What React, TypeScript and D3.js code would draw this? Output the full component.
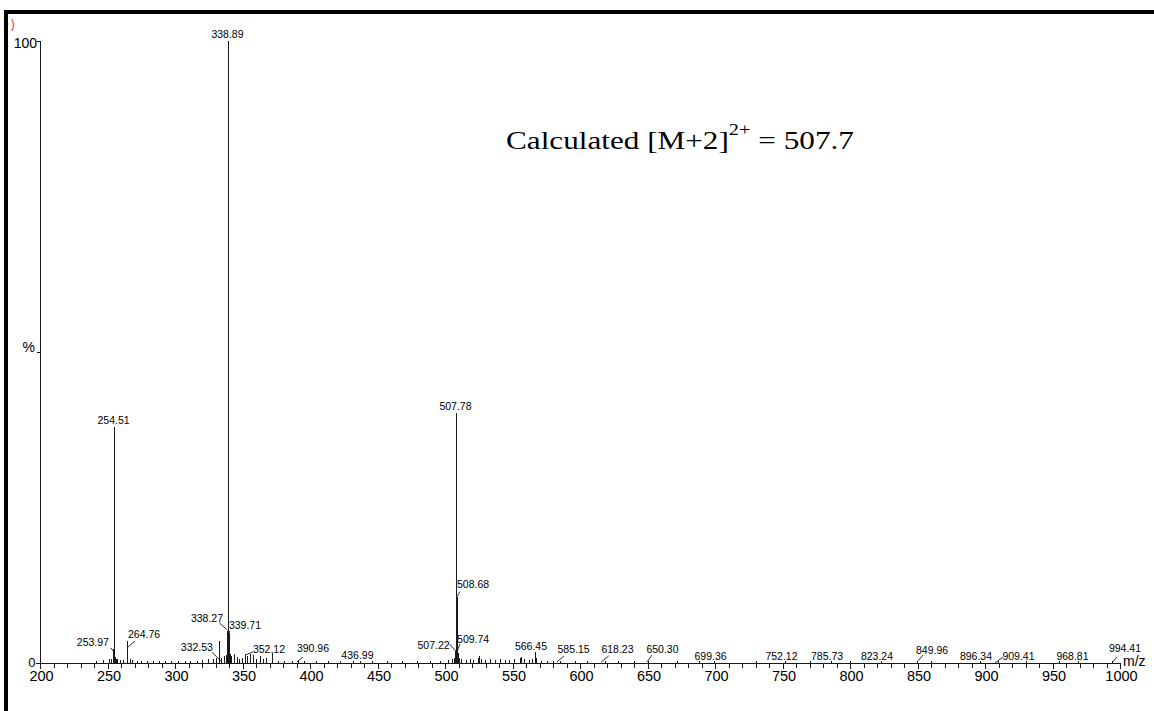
import React from "react";
import * as d3 from "d3";

// Mass spectrum: m/z vs relative intensity (%)
const labeledMz = [
  253.97, 254.51, 264.76, 332.53, 338.27, 338.89, 339.71, 352.12, 390.96, 436.99,
  507.22, 507.78, 508.68, 509.74, 566.45, 585.15, 618.23, 650.3, 699.36, 752.12,
  785.73, 823.24, 849.96, 896.34, 909.41, 968.81, 994.41,
];
const labeledPct = [
  2.1, 37.9, 3.5, 3.5, 5.0, 100, 4.8, 1.2, 0.4, 0.3,
  1.8, 40.2, 10.6, 1.5, 1.7, 0.2, 0.2, 0.3, 0.2, 0.2,
  0.2, 0.2, 0.2, 0.2, 0.2, 0.2, 0.2,
];

// Unlabelled minor peaks
const minorMz = [
  241.2, 246.5, 251.0, 252.3, 255.3, 256.1, 257.4, 259.0, 261.2, 266.3, 268.5, 271.8,
  275.0, 279.4, 283.6, 288.0, 292.5, 297.0, 302.3, 307.1, 311.4, 316.0, 320.2, 324.6,
  328.1, 330.4, 334.0, 336.3, 337.5, 340.6, 341.5, 343.7, 345.9, 347.3, 349.4, 353.1,
  355.6, 357.6, 360.2, 363.0, 365.1, 367.4, 371.6, 376.2, 381.0, 386.5, 395.3, 404.1,
  413.2, 422.0, 431.5, 446.0, 457.1, 468.3, 479.2, 488.6, 496.0, 502.4, 505.1, 506.4,
  510.6, 512.2, 515.3, 518.2, 521.0, 524.4, 525.2, 526.3, 529.8, 533.6, 537.4, 540.9,
  544.2, 547.6, 551.3, 555.2, 556.3, 558.4, 562.1, 564.3, 567.5, 570.8, 575.2, 580.1,
  596.0, 605.0, 628.0, 640.0, 672.0, 688.0, 730.0, 770.0, 800.0, 860.0, 930.0, 955.0,
];
const minorPct = [
  0.3, 0.4, 0.5, 0.6, 0.9, 0.6, 0.5, 0.4, 0.4, 0.6, 0.4, 0.3,
  0.3, 0.3, 0.3, 0.2, 0.3, 0.2, 0.3, 0.2, 0.3, 0.3, 0.4, 0.5,
  0.6, 0.8, 0.7, 1.0, 1.2, 1.4, 1.0, 1.3, 0.9, 0.6, 0.7, 1.0,
  1.4, 1.2, 0.6, 1.0, 0.5, 0.8, 1.5, 0.3, 0.3, 0.2, 0.2, 0.2,
  0.2, 0.2, 0.2, 0.2, 0.2, 0.2, 0.2, 0.3, 0.3, 0.4, 0.6, 0.8,
  0.8, 0.5, 0.4, 0.5, 0.4, 0.7, 1.1, 0.5, 0.4, 0.6, 0.4, 0.5,
  0.4, 0.4, 0.5, 0.7, 0.9, 0.5, 0.4, 0.6, 0.7, 0.3, 0.2, 0.2,
  0.2, 0.2, 0.2, 0.2, 0.2, 0.2, 0.2, 0.2, 0.2, 0.2, 0.2, 0.2,
];

const xTickValues = [200, 250, 300, 350, 400, 450, 500, 550, 600, 650, 700, 750, 800, 850, 900, 950, 1000];
const annotationText = "Calculated [M+2]";
const annotationSup = "2+";
const annotationTail = " = 507.7";

// Label placement relative to the peak apex: text centre offset, baseline offset, leader line
type Place = { dx: number; dy: number; lead?: [number, number, number, number] };
const labelPlacement: Record<string, Place> = {
  "253.97": { dx: -20, dy: -3.4, lead: [-2, -1.5, 2, 3.6] },
  "254.51": { dx: 0, dy: -3 },
  "264.76": { dx: 16.6, dy: -2.7, lead: [7.6, 0.3, 0.6, 6.3] },
  "332.53": { dx: -22, dy: 10.3, lead: [-7, 11.3, 2, 20.3] },
  "338.27": { dx: -19.7, dy: -9.4, lead: [-7.4, -8.7, 0.6, -1.4] },
  "338.89": { dx: 0, dy: -3 },
  "339.71": { dx: 16.4, dy: -3.7, lead: [1.4, -2, -0.9, 3.3] },
  "352.12": { dx: 23.6, dy: -2, lead: [-0.4, 0, 7.6, -3] },
  "390.96": { dx: 15.2, dy: -8, lead: [-0.8, 2, 5.2, -3] },
  "436.99": { dx: -2.5, dy: -1.6 },
  "507.22": { dx: -21.2, dy: -2.8, lead: [-5.2, -7.3, 0.8, -0.3] },
  "507.78": { dx: 0, dy: -3 },
  "508.68": { dx: 16.3, dy: -8.6, lead: [0.3, 0, 3.3, -5] },
  "509.74": { dx: 15, dy: -9.7, lead: [1.9, -9.4, -1.4, -1] },
  "566.45": { dx: -3.7, dy: -1.9 },
  "585.15": { dx: 13.6, dy: -8.3, lead: [-3, 0.7, 4, -5.3] },
  "618.23": { dx: 12.9, dy: -8.3, lead: [-3.6, 1, 4.1, -5.3] },
  "650.30": { dx: 14.6, dy: -7.6, lead: [-0.9, 1.4, 4.1, -5.6] },
  "699.36": { dx: -3.6, dy: -1.3 },
  "752.12": { dx: -3.9, dy: -1.3 },
  "785.73": { dx: -3.7, dy: -1.3 },
  "823.24": { dx: -4.4, dy: -1.3 },
  "849.96": { dx: 14.6, dy: -7.3, lead: [-0.4, 0.7, 5.6, -6.3] },
  "896.34": { dx: -4.1, dy: -1.3 },
  "909.41": { dx: 20.8, dy: -1.3, lead: [-2.7, 1.7, 5.3, -4.3] },
  "968.81": { dx: -5.4, dy: -1.3 },
  "994.41": { dx: 12.5, dy: -9, lead: [-0.5, 1.7, 4.5, -4.5] },
};

const W = 1154;
const H = 711;
const SANS = "'Liberation Sans', Arial, Helvetica, sans-serif";
const SERIF = "'Liberation Serif', 'Times New Roman', serif";
const INK = "#1a1a1a";

export default function App() {
  const x = d3.scaleLinear().domain([200, 1000]).range([40, 1120]);
  const y = d3.scaleLinear().domain([0, 100]).range([662.5, 41]);
  const snap = (v: number) => Math.round(v) + 0.5;

  const minorTicks = d3.range(200, 1001, 10);
  const y0 = snap(y(0));
  const axisX = snap(x(200));

  const peaks = [
    ...minorMz.map((m, i) => ({ mz: m, pct: minorPct[i] })),
    ...labeledMz.map((m, i) => ({ mz: m, pct: labeledPct[i] })),
  ];

  return (
    <div style={{ position: "fixed", left: 0, top: 0, width: W, height: H, background: "#fff" }}>
      <svg width={W} height={H} viewBox={`0 0 ${W} ${H}`} style={{ display: "block" }}>
        <rect x={0} y={0} width={W} height={H} fill="#fff" />
        {/* frame */}
        <rect x={4} y={10} width={W - 4} height={4} fill="#000" />
        <rect x={4} y={10} width={4} height={H - 10} fill="#000" />
        <text x={10.5} y={28} fontFamily={SANS} fontSize={13.5} fill="#f03c3c">)</text>

        {/* y axis */}
        <g shapeRendering="crispEdges" stroke={INK} strokeWidth={1}>
          <line x1={axisX} x2={axisX} y1={snap(y(100))} y2={y0} />
          <line x1={axisX - 4} x2={axisX} y1={snap(y(100))} y2={snap(y(100))} />
          <line x1={axisX - 4} x2={axisX} y1={snap(y(50))} y2={snap(y(50))} />
          <line x1={axisX - 5} x2={axisX} y1={y0} y2={y0} />
        </g>
        <text x={37} y={y(100) + 7} textAnchor="end" fontFamily={SANS} fontSize={14} fill="#000">100</text>
        <text x={35} y={y(50)} textAnchor="end" fontFamily={SANS} fontSize={14} fill="#000">%</text>
        <text x={35.5} y={y(0) + 4} textAnchor="end" fontFamily={SANS} fontSize={13} fill="#000">0</text>

        {/* x axis */}
        <g shapeRendering="crispEdges" stroke={INK} strokeWidth={1}>
          <line x1={axisX} x2={snap(x(1000))} y1={y0} y2={y0} />
          {minorTicks.map((t) => (
            <line key={t} x1={snap(x(t))} x2={snap(x(t))} y1={y0} y2={y0 + (t % 50 === 0 ? 5 : 4)} />
          ))}
        </g>
        {xTickValues.map((t) => (
          <text key={t} x={x(t) + 1.5} y={681} textAnchor="middle" fontFamily={SANS} fontSize={14.5} fill="#000">
            {t}
          </text>
        ))}
        <text x={1123} y={666} fontFamily={SANS} fontSize={14} fill="#000">m/z</text>

        {/* peaks */}
        <g shapeRendering="crispEdges" stroke={INK} strokeWidth={1}>
          {peaks.map((p, i) => (
            <line key={i} x1={snap(x(p.mz))} x2={snap(x(p.mz))} y1={y0} y2={Math.min(y0 - 1, y(p.pct))} />
          ))}
        </g>

        {/* peak labels */}
        {labeledMz.map((m, i) => {
          const label = m.toFixed(2);
          const place = labelPlacement[label] || { dx: 0, dy: -3 };
          const px = x(m);
          const py = y(labeledPct[i]);
          return (
            <g key={label}>
              {place.lead && (
                <line
                  x1={px + place.lead[0]}
                  y1={py + place.lead[1]}
                  x2={px + place.lead[2]}
                  y2={py + place.lead[3]}
                  stroke={INK}
                  strokeWidth={0.9}
                />
              )}
              <text
                x={px + place.dx}
                y={py + place.dy}
                textAnchor="middle"
                fontFamily={SANS}
                fontSize={10.5}
                fill="#000"
              >
                {label}
              </text>
            </g>
          );
        })}

        {/* annotation */}
        <text transform="translate(506,149) scale(1.2,1)" fontFamily={SERIF} fontSize={26} fill="#000">
          {annotationText}
          <tspan dy={-14} fontSize={17}>{annotationSup}</tspan>
          <tspan dy={14}>{annotationTail}</tspan>
        </text>
      </svg>
    </div>
  );
}
